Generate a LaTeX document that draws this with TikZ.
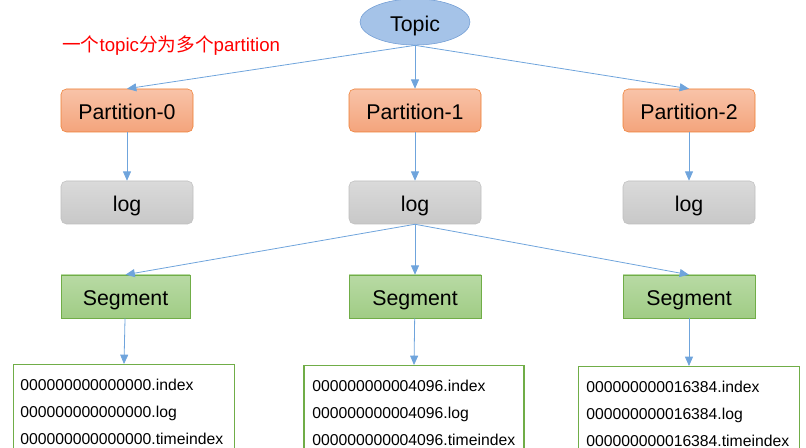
\documentclass[tikz,border=0pt]{standalone}
\usepackage{fontspec}
\setmainfont{Liberation Sans}
\newfontfamily\cjk{Noto Sans CJK SC}
\usetikzlibrary{arrows.meta,shapes.geometric}

\definecolor{arrowblue}{HTML}{6FA4DC}
\definecolor{topicfill}{HTML}{A5C3E8}
\definecolor{topicline}{HTML}{6F9BD3}
\definecolor{partline}{HTML}{ED7D31}
\definecolor{parttop}{HTML}{F8C3A8}
\definecolor{partbottom}{HTML}{F4A47C}
\definecolor{logline}{HTML}{BFBFBF}
\definecolor{logtop}{HTML}{DADADA}
\definecolor{logbottom}{HTML}{C8C8C8}
\definecolor{segline}{HTML}{70AD47}
\definecolor{segtop}{HTML}{B8DAA4}
\definecolor{segbottom}{HTML}{A0CC85}

\tikzset{
  link/.style={draw=arrowblue, line width=0.6pt, -{Triangle[length=7pt,width=6pt]}},
  boxtext/.style={minimum width=99pt, minimum height=32.25pt, text height=16pt, text depth=1.8pt,
    font=\fontsize{16}{18}\selectfont},
  partbox/.style={boxtext, draw=partline, rounded corners=4pt, top color=parttop, bottom color=partbottom},
  logbox/.style={boxtext, draw=logline, rounded corners=4pt, top color=logtop, bottom color=logbottom},
  segbox/.style={boxtext, draw=segline, top color=segtop, bottom color=segbottom},
  filebox/.style={draw=segline, line width=0.9pt, fill=white, anchor=north, minimum width=166pt, minimum height=90pt},
  filetext/.style={anchor=north west, align=left, inner sep=0pt, font=\fontsize{11.8}{20.2}\selectfont}
}

\begin{document}
\begin{tikzpicture}[x=0.75pt,y=0.75pt,yscale=-1,xscale=1]
  \useasboundingbox (0,0) rectangle (806,448);
  \clip (0,0) rectangle (806,448);

  % Topic
  \node [ellipse, draw=topicline, fill=topicfill, minimum width=82.5pt, minimum height=33pt,
    text height=16pt, text depth=1.8pt, font=\fontsize{16}{18}\selectfont] (topic) at (415,22) {Topic};
  \node [anchor=west, inner sep=0pt, text=red, font=\fontsize{14}{16}\selectfont] (note) at (62,46)
    {{\cjk 一个}topic{\cjk 分为多个}partition};

  % Partitions
  \node [partbox] (part0) at (127,110.5) {Partition-0};
  \node [partbox] (part1) at (415,110.5) {Partition-1};
  \node [partbox] (part2) at (689,110.5) {Partition-2};

  % Logs
  \node [logbox] (log0) at (127,202.5) {log};
  \node [logbox] (log1) at (415,202.5) {log};
  \node [logbox] (log2) at (689,202.5) {log};

  % Segments
  \node [segbox, minimum width=96.75pt] (seg0) at (125.5,296.5) {Segment};
  \node [segbox] (seg1) at (415,296.5) {Segment};
  \node [segbox] (seg2) at (689,296.5) {Segment};

  % Files
  \node [filebox] (files0) at (124,364) {};
  \node [filebox, minimum width=165pt] (files1) at (414,365) {};
  \node [filebox] (files2) at (689,366) {};
  \node [filetext] (names0) at (20,379) {000000000000000.index\\000000000000000.log\\000000000000000.timeindex};
  \node [filetext] (names1) at (312,380) {000000000004096.index\\000000000004096.log\\000000000004096.timeindex};
  \node [filetext] (names2) at (586,381) {000000000016384.index\\000000000016384.log\\000000000016384.timeindex};

  % Arrows
  \foreach \i in {0,1,2} {
    \draw [link] (topic.south) -- (part\i.north);
    \draw [link] (part\i) -- (log\i);
    \draw [link] (log1.south) -- (seg\i.north);
    \draw [link] (seg\i) -- (files\i.north);
  }

\end{tikzpicture}
\end{document}
